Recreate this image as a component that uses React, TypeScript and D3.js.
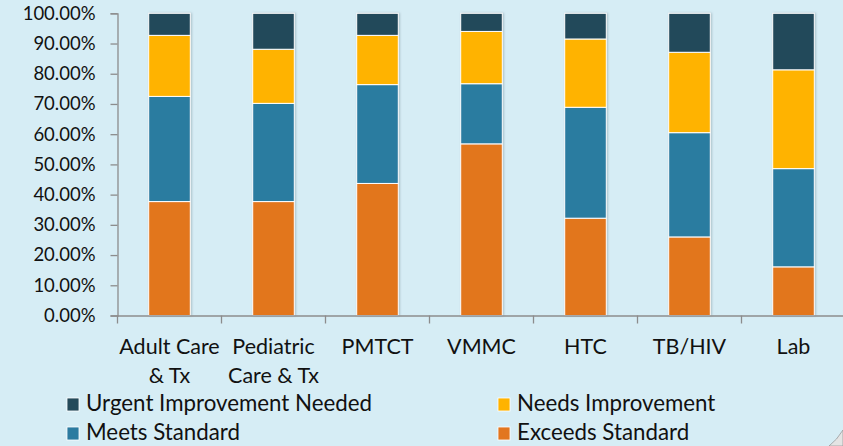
import React, { useRef, useEffect } from 'react';
import * as d3 from 'd3';

// categories (label lines)
const categories = ['Adult Care & Tx', 'Pediatric Care & Tx', 'PMTCT', 'VMMC', 'HTC', 'TB/HIV', 'Lab'];
const categoryLines = [['Adult Care', '& Tx'], ['Pediatric', 'Care & Tx'], ['PMTCT'], ['VMMC'], ['HTC'], ['TB/HIV'], ['Lab']];

// series values (%), bottom to top
const exceedsStandard = [37.7, 37.7, 43.7, 56.8, 32.2, 26.0, 16.1];
const meetsStandard = [34.8, 32.5, 32.7, 19.9, 36.7, 34.5, 32.5];
const needsImprovement = [20.2, 17.9, 16.3, 17.3, 22.6, 26.6, 32.7];
const urgentImprovement = [7.3, 11.9, 7.3, 6.0, 8.5, 12.9, 18.7];

const yTicks = [0, 10, 20, 30, 40, 50, 60, 70, 80, 90, 100];

const seriesKeys = ['Exceeds Standard', 'Meets Standard', 'Needs Improvement', 'Urgent Improvement Needed'];
const colors = ['#E2761F', '#2C7BA0', '#FFB300', '#244A5A'];

const W = 843;
const H = 446;
const FONT = 'Lato, "Open Sans", sans-serif';

const App = () => {
    const svgRef = useRef<SVGSVGElement>(null);

    useEffect(() => {
        const svg = d3.select(svgRef.current);
        svg.selectAll('*').remove();

        svg.append('rect').attr('width', W).attr('height', H).attr('fill', '#D6EDF5');

        const left = 117.5;
        const right = 845.5;
        const top = 13.3;
        const bottom = 315.5;

        const table = categories.map((c, i) => ({
            category: c,
            'Exceeds Standard': exceedsStandard[i],
            'Meets Standard': meetsStandard[i],
            'Needs Improvement': needsImprovement[i],
            'Urgent Improvement Needed': urgentImprovement[i],
        }));

        const stacked = d3.stack<any>().keys(seriesKeys)(table);

        const x = d3.scaleBand()
            .domain(categories)
            .range([left, right])
            .paddingInner(0.6)
            .paddingOuter(0.3);

        const y = d3.scaleLinear().domain([0, 100]).range([bottom, top]);

        // bars
        const defs = svg.append('defs');
        const f = defs.append('filter').attr('id', 'shadow').attr('x', '-20%').attr('y', '-5%').attr('width', '140%').attr('height', '110%');
        f.append('feDropShadow').attr('dx', 1).attr('dy', 0).attr('stdDeviation', 0.8).attr('flood-color', '#7a8f99').attr('flood-opacity', 0.5);

        const barG = svg.append('g').attr('filter', 'url(#shadow)');
        stacked.forEach((s, si) => {
            barG.append('g')
                .selectAll('rect')
                .data(s)
                .enter()
                .append('rect')
                .attr('x', d => x(d.data.category)!)
                .attr('width', x.bandwidth())
                .attr('y', d => y(d[1]))
                .attr('height', d => y(d[0]) - y(d[1]))
                .attr('fill', colors[si])
                .attr('stroke', '#ffffff')
                .attr('stroke-width', 1);
        });

        // y axis
        const yAxis = svg.append('g')
            .attr('transform', `translate(${left},0)`)
            .call(d3.axisLeft(y).tickValues(yTicks).tickSize(7).tickPadding(15).tickFormat(d => `${(+d).toFixed(2)}%`));
        yAxis.select('.domain').attr('stroke', '#8c8c8c').attr('stroke-width', 1.3);
        yAxis.selectAll('.tick line').attr('stroke', '#8c8c8c').attr('stroke-width', 1.3);
        yAxis.selectAll('.tick text')
            .attr('fill', '#111')
            .style('font-family', FONT)
            .style('font-size', '18.5px');

        // x axis
        const xAxis = svg.append('g')
            .attr('transform', `translate(0,${bottom})`)
            .call(d3.axisBottom(x).tickSize(0).tickFormat(() => ''));
        xAxis.select('.domain').attr('stroke', '#8c8c8c').attr('stroke-width', 1.3);
        const step = x.step();
        const bounds = d3.range(categories.length + 1).map(i => left + i * step);
        xAxis.selectAll('line.bound')
            .data(bounds)
            .enter()
            .append('line')
            .attr('class', 'bound')
            .attr('x1', d => d).attr('x2', d => d)
            .attr('y1', 0).attr('y2', 8)
            .attr('stroke', '#8c8c8c')
            .attr('stroke-width', 1.3);

        // category labels
        const labels = svg.append('g');
        categoryLines.forEach((lines, i) => {
            const cx = x(categories[i])! + x.bandwidth() / 2;
            lines.forEach((ln, j) => {
                labels.append('text')
                    .attr('x', cx)
                    .attr('y', 354 + j * 29)
                    .attr('text-anchor', 'middle')
                    .attr('fill', '#111')
                    .style('font-family', FONT)
                    .style('font-size', '21.5px')
                    .text(ln);
            });
        });

        // legend
        const legendItems = [
            { name: 'Urgent Improvement Needed', color: colors[3], x: 67, y: 398 },
            { name: 'Needs Improvement', color: colors[2], x: 498, y: 398 },
            { name: 'Meets Standard', color: colors[1], x: 67, y: 427 },
            { name: 'Exceeds Standard', color: colors[0], x: 498, y: 427 },
        ];
        const legend = svg.append('g');
        legendItems.forEach(item => {
            legend.append('rect')
                .attr('x', item.x)
                .attr('y', item.y)
                .attr('width', 12)
                .attr('height', 13)
                .attr('fill', item.color)
                .attr('stroke', '#ffffff')
                .attr('stroke-width', 0.8);
            legend.append('text')
                .attr('x', item.x + 19)
                .attr('y', item.y + 13)
                .attr('fill', '#111')
                .style('font-family', FONT)
                .style('font-size', '22.3px')
                .text(item.name);
        });

        // page curl in corner
        svg.append('path')
            .attr('d', `M${W - 14},${H} Q${W - 6},${H - 6} ${W},${H - 16} L${W},${H} Z`)
            .attr('fill', '#e4e4e4')
            .attr('stroke', '#9a9a9a')
            .attr('stroke-width', 0.8);
    }, []);

    return (
        <svg
            ref={svgRef}
            width={W}
            height={H}
            style={{ position: 'absolute', left: 0, top: 0, display: 'block' }}
        />
    );
};

export default App;
